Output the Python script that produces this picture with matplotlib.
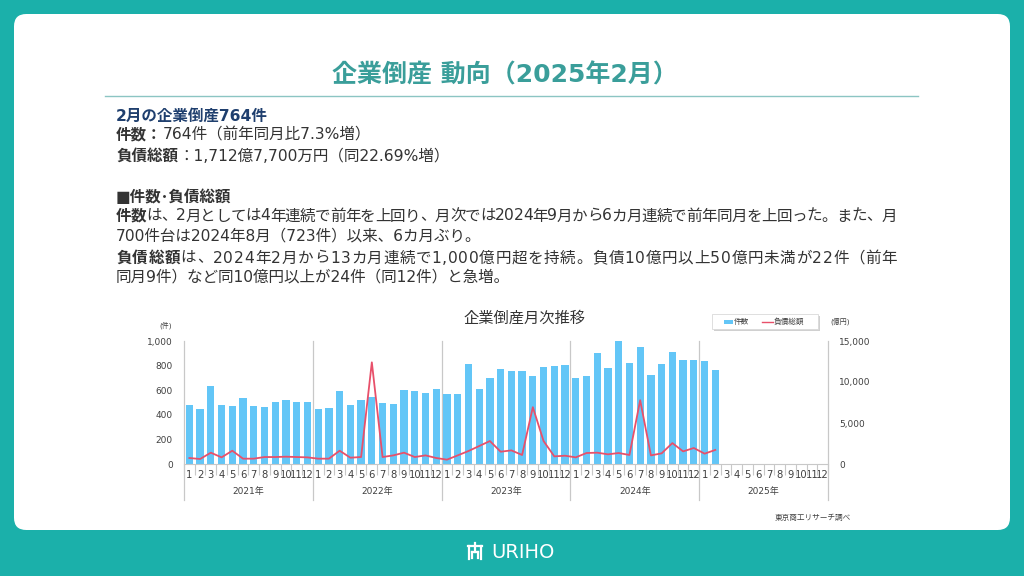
import numpy as np
import matplotlib
matplotlib.use('Agg')
from matplotlib import pyplot as plt
from matplotlib.patches import FancyBboxPatch, Rectangle
from matplotlib.lines import Line2D

plt.rcParams['font.family'] = ['DejaVu Sans', 'Noto Sans CJK JP']

# data
years = ['2021年', '2022年', '2023年', '2024年', '2025年']
month_labels = [str(m) for m in range(1, 13)] * 5
counts = [476, 446, 636, 477, 472, 539, 475, 467, 505, 523, 507, 504,
          445, 457, 593, 482, 521, 541, 494, 491, 600, 596, 579, 607,
          570, 573, 813, 608, 703, 771, 755, 756, 718, 789, 800, 804,
          701, 712, 906, 780, 1009, 825, 951, 723, 810, 909, 845, 846,
          840, 764]
debt = [730, 610, 1380, 810, 1620, 650, 650, 850, 850, 890, 850, 810,
        650, 650, 1620, 770, 850, 12400, 850, 1050, 1380, 850, 1050, 730,
        530, 1050, 1580, 2190, 2800, 1500, 1660, 1100, 6930, 2800, 930, 1010,
        810, 1340, 1380, 1180, 1340, 1100, 7780, 1050, 1300, 2550, 1540, 1950,
        1260, 1713]
left_ticks = [0, 200, 400, 600, 800, 1000]
right_ticks = [0, 5000, 10000, 15000]

TEAL = '#1bb0aa'
TITLE = '#3a9e9a'
NAVY = '#1f3f6e'
TXT = '#333333'
BAR = '#63c6f7'
LINE = '#e8506a'
GRID = '#c8c8c8'

W, H = 1024, 576
fig = plt.figure(figsize=(W / 100, H / 100), dpi=100, facecolor=TEAL)


def px(x, y):
    return x / W, 1 - y / H


# white card
card = FancyBboxPatch(px(14, 530), 996 / W, 516 / H,
                      boxstyle='round,pad=0,rounding_size=0.012',
                      transform=fig.transFigure, facecolor='white',
                      edgecolor='none', mutation_aspect=W / H, zorder=-10)
fig.patches.append(card)

fig.text(*px(505, 75), '企業倒産 動向（2025年2月）', ha='center', va='center',
         fontsize=18, fontweight='bold', color=TITLE)
fig.lines.append(Line2D([105 / W, 918 / W], [1 - 95.5 / H] * 2,
                        transform=fig.transFigure, color='#8cc5c3', lw=1))

renderer = fig.canvas.get_renderer()
SIZE = 11.2


def width_of(s, bold, size):
    t = fig.text(0, 0, s, fontsize=size, fontweight='bold' if bold else 'normal')
    w = t.get_window_extent(renderer).width
    t.remove()
    return w


def runs(x, y, parts, size=SIZE, right=None):
    # draw text pieces one after another, bold where asked;
    # with right= the line is spread out to end there (justified)
    gap = 0
    if right is not None:
        chars = [(c, b) for s, b, col in parts for c in s]
        natural = sum(width_of(c, b, size) for c, b in chars)
        gap = (right - x - natural) / (len(chars) - 1)
    for s, bold, col in parts:
        pieces = list(s) if right is not None else [s]
        for p in pieces:
            t = fig.text(*px(x, y), p, ha='left', va='center', fontsize=size,
                         fontweight='bold' if bold else 'normal', color=col)
            x = t.get_window_extent(renderer).x1 + gap


runs(116, 116, [('2月の企業倒産764件', True, NAVY)])
runs(116, 135, [('件数：', True, TXT), ('764件（前年同月比7.3%増）', False, TXT)])
runs(116, 156, [('負債総額', True, TXT), ('：1,712億7,700万円（同22.69%増）', False, TXT)])
runs(116, 197, [('■件数･負債総額', True, TXT)])
runs(116, 216, [('件数', True, TXT),
                ('は、2月としては4年連続で前年を上回り、月次では2024年9月から6カ月連続で前年同月を上回った。また、月', False, TXT)],
     right=897)
runs(116, 236, [('700件台は2024年8月（723件）以来、6カ月ぶり。', False, TXT)])
runs(116, 258, [('負債総額', True, TXT),
                ('は、2024年2月から13カ月連続で1,000億円超を持続。負債10億円以上50億円未満が22件（前年', False, TXT)],
     right=897)
runs(116, 277, [('同月9件）など同10億円以上が24件（同12件）と急増。', False, TXT)])

# chart
x0, x1, ytop, ybot = 184, 828, 341, 464
ax = fig.add_axes([x0 / W, 1 - ybot / H, (x1 - x0) / W, (ybot - ytop) / H])
ax.set_facecolor('none')
x = np.arange(len(month_labels))
ax.bar(x[:len(counts)], counts, width=0.68, color=BAR, zorder=2)
ax.set_xlim(-0.5, len(month_labels) - 0.5)
ax.set_ylim(0, 1000)
ax.set_yticks(left_ticks)
ax.set_yticklabels([f'{v:,}' for v in left_ticks], fontsize=6.5, color='#404040')
ax.set_xticks(x)
ax.set_xticklabels(month_labels, fontsize=7.2, color='#404040')
ax.set_xticks(np.arange(-0.5, len(month_labels), 1), minor=True)
ax.tick_params(axis='x', which='major', length=0, pad=4)
ax.tick_params(axis='x', which='minor', length=8, color=GRID, width=0.8)
ax.tick_params(axis='y', length=0, pad=8)
for s in ['top', 'right']:
    ax.spines[s].set_visible(False)
ax.spines['left'].set_visible(False)
ax.spines['bottom'].set_color(GRID)

for k in range(len(years) + 1):
    ax.axvline(k * 12 - 0.5, ymin=-0.29, ymax=1, color=GRID, lw=0.9,
               clip_on=False, zorder=1)
for k, yr in enumerate(years):
    ax.text(k * 12 + 5.5, -0.22, yr, transform=ax.get_xaxis_transform(),
            ha='center', va='center', fontsize=6.5, color='#404040')

ax2 = ax.twinx()
ax2.plot(x[:len(debt)], debt, color=LINE, lw=1.3, zorder=3)
ax2.set_ylim(0, 15000)
ax2.set_yticks(right_ticks)
ax2.set_yticklabels([f'{v:,}' for v in right_ticks], fontsize=6.5, color='#404040')
ax2.tick_params(axis='y', length=0, pad=8)
for s in ['top', 'left', 'bottom', 'right']:
    ax2.spines[s].set_visible(False)

fig.text(*px(525, 318), '企業倒産月次推移', ha='center', va='center',
         fontsize=11, color='#333333')
fig.text(*px(166, 325), '(件)', ha='center', va='center', fontsize=5, color='#404040')
fig.text(*px(840, 321), '(億円)', ha='center', va='center', fontsize=5, color='#404040')

# legend box
lx, ly, lw_, lh = 712, 314, 106, 15
fig.patches.append(Rectangle(px(lx + 1.5, ly + lh + 1.5), lw_ / W, lh / H,
                             transform=fig.transFigure, facecolor='#d0d0d0',
                             edgecolor='none'))
fig.patches.append(Rectangle(px(lx, ly + lh), lw_ / W, lh / H,
                             transform=fig.transFigure, facecolor='white',
                             edgecolor='#d9d9d9', lw=0.6))
fig.patches.append(Rectangle(px(724, 323.5), 9 / W, 4 / H,
                             transform=fig.transFigure, facecolor=BAR,
                             edgecolor='none'))
fig.text(*px(734, 321.5), '件数', ha='left', va='center', fontsize=5.5, color='#404040')
fig.lines.append(Line2D([762 / W, 773 / W], [1 - 321.5 / H] * 2,
                        transform=fig.transFigure, color=LINE, lw=1))
fig.text(*px(774, 321.5), '負債総額', ha='left', va='center', fontsize=5.5, color='#404040')

fig.text(*px(813, 517), '東京商工リサーチ調べ', ha='center', va='center',
         fontsize=5.5, color='#404040')

# footer logo
fig.text(*px(523, 553), 'URIHO', ha='center', va='center', fontsize=14,
         color='white', fontfamily='DejaVu Sans')
for xs, ys in [([468, 482], [546, 546]), ([469, 469], [546, 559]),
               ([481, 481], [546, 559]), ([472, 478], [552, 552]),
               ([472, 472], [552, 558]), ([478, 478], [552, 558]),
               ([475, 475], [543, 552])]:
    fig.lines.append(Line2D([v / W for v in xs], [1 - v / H for v in ys],
                            transform=fig.transFigure, color='white', lw=1.6))

fig.savefig('out.png', dpi=100, facecolor=TEAL)
